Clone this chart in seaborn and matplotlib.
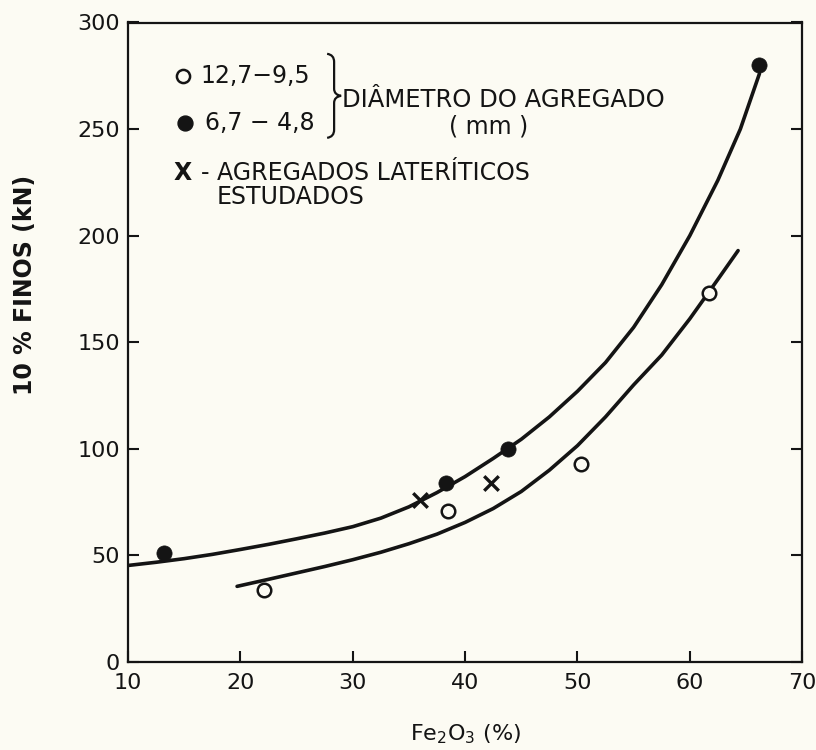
import matplotlib
matplotlib.use("Agg")
import matplotlib.pyplot as plt
import seaborn as sns
import pandas as pd
from matplotlib.path import Path
from matplotlib.patches import PathPatch

# ---- data ----
fe_filled = [13.2, 38.3, 43.8, 66.2]          # 6,7 - 4,8 mm (filled)
finos_filled = [51, 84, 100, 280]
fe_open = [22.1, 38.5, 50.3, 61.7]            # 12,7 - 9,5 mm (open)
finos_open = [34, 71, 93, 173]
fe_lat = [36.0, 42.3]                         # lateritic aggregates (x)
finos_lat = [76, 84]

# fitted curves as drawn in the figure
curve_upper_x = [10, 12.5, 15, 17.5, 20, 22.5, 25, 27.5, 30, 32.5, 35, 37.5,
                 40, 42.5, 45, 47.5, 50, 52.5, 55, 57.5, 60, 62.5, 64.5, 66.2]
curve_upper_y = [45.3, 46.8, 48.5, 50.5, 52.8, 55.2, 57.8, 60.5, 63.5, 67.5,
                 72.8, 79.5, 87, 95.5, 104.5, 115, 127, 140.5, 157, 177, 200,
                 226, 250, 276]
curve_lower_x = [19.7, 22.5, 25, 27.5, 30, 32.5, 35, 37.5, 40, 42.5, 45, 47.5,
                 50, 52.5, 55, 57.5, 60, 62.5, 64.3]
curve_lower_y = [35.5, 38.8, 41.8, 44.8, 48, 51.5, 55.5, 60, 65.5, 72, 80, 90,
                 101.5, 115, 130, 144, 161, 179.5, 193]

x_ticks = [10, 20, 30, 40, 50, 60, 70]
y_ticks = [0, 50, 100, 150, 200, 250, 300]

BG = "#fcfbf3"
INK = "#141414"

sns.set_theme(style="white")
plt.rcParams["font.family"] = ["DejaVu Sans"]

fig = plt.figure(figsize=(8.16, 7.5), dpi=100, facecolor=BG)
ax = fig.add_axes([0.157, 0.1173, 0.826, 0.8527])
ax.set_facecolor(BG)

df_up = pd.DataFrame({"x": curve_upper_x, "y": curve_upper_y})
df_lo = pd.DataFrame({"x": curve_lower_x, "y": curve_lower_y})
sns.lineplot(data=df_up, x="x", y="y", ax=ax, color=INK, lw=2.6,
             sort=False, estimator=None)
sns.lineplot(data=df_lo, x="x", y="y", ax=ax, color=INK, lw=2.6,
             sort=False, estimator=None)

df_f = pd.DataFrame({"x": fe_filled, "y": finos_filled})
df_o = pd.DataFrame({"x": fe_open, "y": finos_open})
df_l = pd.DataFrame({"x": fe_lat, "y": finos_lat})
sns.scatterplot(data=df_f, x="x", y="y", ax=ax, marker="o", s=120,
                color=INK, edgecolor=INK, linewidth=0.5, zorder=5)
sns.scatterplot(data=df_o, x="x", y="y", ax=ax, marker="o", s=95,
                facecolor=BG, edgecolor=INK, linewidth=1.8, zorder=5)
sns.scatterplot(data=df_l, x="x", y="y", ax=ax, marker="x", s=110,
                color=INK, linewidth=2.4, zorder=5)

ax.set_xlim(10, 70)
ax.set_ylim(0, 300)
ax.set_xticks(x_ticks)
ax.set_yticks(y_ticks)
ax.set_xticklabels([str(v) for v in x_ticks])
ax.set_yticklabels([str(v) for v in y_ticks])

for s in ax.spines.values():
    s.set_visible(True)
    s.set_color(INK)
    s.set_linewidth(1.6)

ax.tick_params(axis="both", which="both", direction="in", length=8,
               width=1.5, color=INK, labelsize=16, labelcolor=INK)
ax.tick_params(axis="y", left=True, right=True, pad=6)
ax.tick_params(axis="x", bottom=True, top=False, pad=8)

ax.set_xlabel(r"Fe$_2$O$_3$ (%)", fontsize=16, color=INK, labelpad=21)
ax.set_ylabel("10 % FINOS (kN)", fontsize=17, fontweight="bold", color=INK)
ax.yaxis.set_label_coords(-0.135, 0.59)

# ---- legend drawn as annotation in axes fraction ----
T = ax.transAxes
ax.scatter([0.0816], [0.917], s=90, marker="o", facecolor=BG,
           edgecolor=INK, linewidth=1.8, transform=T, zorder=6)
ax.scatter([0.0846], [0.843], s=115, marker="o", color=INK,
           transform=T, zorder=6)
ax.text(0.107, 0.917, "12,7−9,5", transform=T, fontsize=17, va="center",
        ha="left", color=INK)
ax.text(0.114, 0.843, "6,7 − 4,8", transform=T, fontsize=17, va="center",
        ha="left", color=INK)

def fx(px):
    return (px - 128) / 674.0

def fy(py):
    return (662 - py) / 639.3

verts = [
    (fx(327), fy(54)), (fx(334), fy(55)), (fx(334), fy(62)),
    (fx(334), fy(89)),
    (fx(334), fy(95)), (fx(341), fy(96)),
    (fx(334), fy(97)), (fx(334), fy(103)),
    (fx(334), fy(130)),
    (fx(334), fy(137)), (fx(327), fy(138)),
]
codes = [Path.MOVETO, Path.CURVE3, Path.CURVE3,
         Path.LINETO,
         Path.CURVE3, Path.CURVE3,
         Path.CURVE3, Path.CURVE3,
         Path.LINETO,
         Path.CURVE3, Path.CURVE3]
ax.add_patch(PathPatch(Path(verts, codes), transform=T, fill=False,
                       edgecolor=INK, lw=1.6, clip_on=False))

ax.text(0.3175, 0.879, "DIÂMETRO DO AGREGADO", transform=T, fontsize=17.5,
        va="center", ha="left", color=INK)
ax.text(0.535, 0.837, "( mm )", transform=T, fontsize=17, va="center",
        ha="center", color=INK)
ax.text(0.0816, 0.765, "X", transform=T, fontsize=17, fontweight="bold",
        va="center", ha="center", color=INK)
ax.text(0.108, 0.765, "- AGREGADOS LATERÍTICOS", transform=T, fontsize=17,
        va="center", ha="left", color=INK)
ax.text(0.132, 0.727, "ESTUDADOS", transform=T, fontsize=17,
        va="center", ha="left", color=INK)

fig.savefig("out.png", dpi=100, facecolor=BG)
